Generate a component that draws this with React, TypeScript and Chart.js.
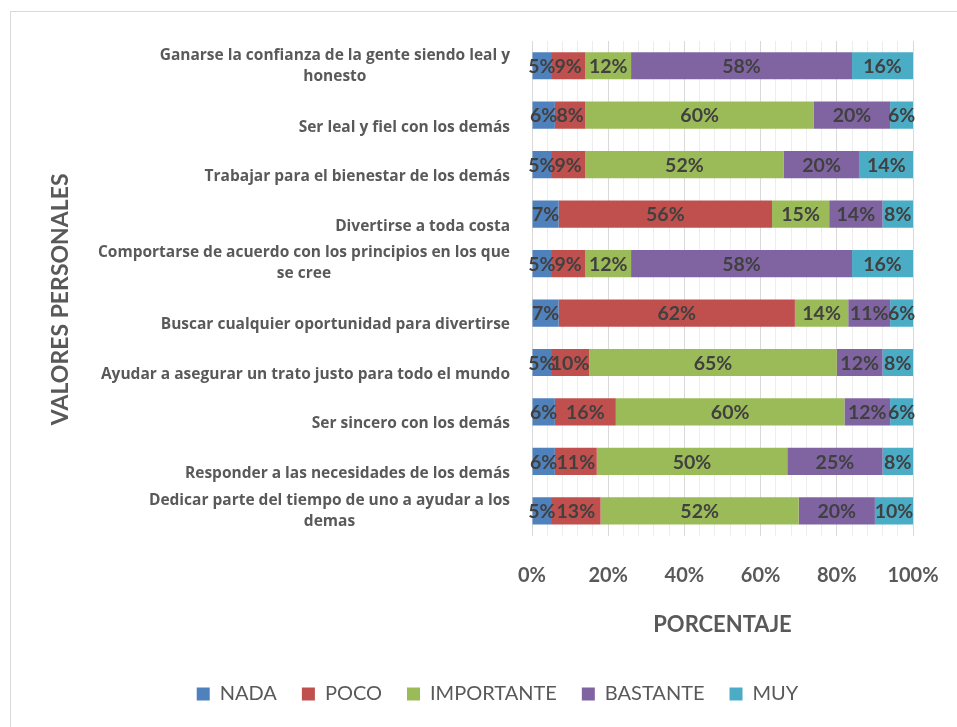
import React, { useEffect, useRef } from "react";
import { Chart, registerables } from "chart.js";

Chart.register(...registerables);

const categories: string[][] = [
  ["Ganarse la confianza de la gente siendo leal y", "honesto"],
  ["Ser leal y fiel con los demás"],
  ["Trabajar para el bienestar de los demás"],
  ["Divertirse a toda costa"],
  ["Comportarse de acuerdo con los principios en los que", "se cree"],
  ["Buscar cualquier oportunidad para divertirse"],
  ["Ayudar a asegurar un trato justo para todo el mundo"],
  ["Ser sincero con los demás"],
  ["Responder a las necesidades de los demás"],
  ["Dedicar parte del tiempo de uno a ayudar a los", "demas"],
];

const seriesNames = ["NADA", "POCO", "IMPORTANTE", "BASTANTE", "MUY"];
const nada = [5, 6, 5, 7, 5, 7, 5, 6, 6, 5];
const poco = [9, 8, 9, 56, 9, 62, 10, 16, 11, 13];
const importante = [12, 60, 52, 15, 12, 14, 65, 60, 50, 52];
const bastante = [58, 20, 20, 14, 58, 11, 12, 12, 25, 20];
const muy = [16, 6, 14, 8, 16, 6, 8, 6, 8, 10];
const seriesColors = ["#4F81BD", "#C0504D", "#9BBB59", "#8064A2", "#4BACC6"];
const xTickValues = [0, 20, 40, 60, 80, 100];
const yTitle = "VALORES PERSONALES";
const xTitle = "PORCENTAJE";

const FONT = "Lato";
const LABEL_FONT = "'Open Sans'";
const PAD_LEFT = 82;

const framePlugin = {
  id: "frame",
  beforeDraw(chart: any) {
    const ctx = chart.ctx;
    ctx.save();
    ctx.fillStyle = "#ffffff";
    ctx.fillRect(0, 0, chart.width, chart.height);
    ctx.strokeStyle = "#d9d9d9";
    ctx.lineWidth = 1;
    ctx.strokeRect(10.5, 11.5, chart.width + 10, chart.height + 10);
    ctx.restore();
  },
};

const labelsPlugin = {
  id: "catLabels",
  afterDraw(chart: any) {
    const ctx = chart.ctx;
    const yScale = chart.scales.y;
    const area = chart.chartArea;
    const right = area.left - 22;
    ctx.save();
    ctx.font = `bold 15.5px ${LABEL_FONT}`;
    ctx.fillStyle = "#595959";
    ctx.textBaseline = "middle";
    categories.forEach((lines, i) => {
      const y = yScale.getPixelForValue(i);
      if (lines.length === 1) {
        ctx.textAlign = "right";
        ctx.fillText(lines[0], right, y + 12);
      } else {
        const w = Math.max(...lines.map((l) => ctx.measureText(l).width));
        const cx = right - w / 2;
        ctx.textAlign = "center";
        const lh = 21;
        lines.forEach((l, k) => {
          ctx.fillText(l, cx, y + (k - (lines.length - 1) / 2) * lh);
        });
      }
    });
    // vertical axis title
    ctx.translate(61, (area.top + area.bottom) / 2 + 11);
    ctx.rotate(-Math.PI / 2);
    ctx.font = `bold 23px ${FONT}`;
    ctx.textAlign = "center";
    ctx.fillText(yTitle, 0, 0);
    ctx.restore();
  },
};

const valuePlugin = {
  id: "valueLabels",
  afterDatasetsDraw(chart: any) {
    const ctx = chart.ctx;
    ctx.save();
    ctx.font = `bold 19.5px ${FONT}`;
    ctx.fillStyle = "#404040";
    ctx.textAlign = "center";
    ctx.textBaseline = "middle";
    chart.data.datasets.forEach((ds: any, di: number) => {
      const meta = chart.getDatasetMeta(di);
      meta.data.forEach((el: any, i: number) => {
        const cx = (el.x + el.base) / 2;
        ctx.fillText(ds.data[i] + "%", cx, el.y + 1);
      });
    });
    ctx.restore();
  },
};

export default function App() {
  const ref = useRef<HTMLCanvasElement>(null);
  useEffect(() => {
    const seriesData = [nada, poco, importante, bastante, muy];
    const chart = new Chart(ref.current as HTMLCanvasElement, {
      type: "bar",
      data: {
        labels: categories.map((l) => l.join(" ")),
        datasets: seriesNames.map((name, k) => ({
          label: name,
          data: seriesData[k],
          backgroundColor: seriesColors[k],
          borderWidth: 0,
          barPercentage: 0.55,
          categoryPercentage: 1,
        })),
      },
      options: {
        indexAxis: "y",
        animation: false,
        responsive: false,
        maintainAspectRatio: false,
        layout: { padding: { left: PAD_LEFT, right: 44, top: 41, bottom: 13 } },
        plugins: {
          tooltip: { enabled: false },
          legend: {
            position: "bottom",
            labels: {
              boxWidth: 13,
              boxHeight: 13,
              padding: 25,
              color: "#595959",
              font: { family: FONT, size: 20 },
            },
          },
        },
        scales: {
          x: {
            stacked: true,
            min: 0,
            max: 100,
            grid: {
              drawTicks: false,
              color: (c: any) =>
                c.tick && xTickValues.includes(c.tick.value) ? "#d9d9d9" : "#ededed",
            },
            border: { display: false },
            ticks: {
              stepSize: 4,
              autoSkip: false,
              maxRotation: 0,
              padding: 28,
              color: "#595959",
              font: { family: FONT, size: 20, weight: "bold" },
              callback: (v: any) => (xTickValues.includes(Number(v)) ? v + "%" : ""),
            },
            title: {
              display: true,
              text: xTitle,
              color: "#595959",
              font: { family: FONT, size: 22, weight: "bold" },
              padding: { top: -4, bottom: 21 },
            },
            afterFit: (s: any) => {
              s.paddingLeft = 0;
              s.paddingRight = 0;
            },
          },
          y: {
            stacked: true,
            grid: { display: false },
            border: { display: false },
            ticks: { display: false },
            title: { display: false },
            afterFit: (s: any) => {
              s.width = 532 - PAD_LEFT;
            },
          },
        },
      },
      plugins: [framePlugin, labelsPlugin, valuePlugin],
    });
    return () => chart.destroy();
  }, []);
  return (
    <div style={{ position: "absolute", left: 0, top: 0, width: 957, height: 727 }}>
      <canvas ref={ref} width={957} height={727} style={{ width: 957, height: 727 }} />
    </div>
  );
}
